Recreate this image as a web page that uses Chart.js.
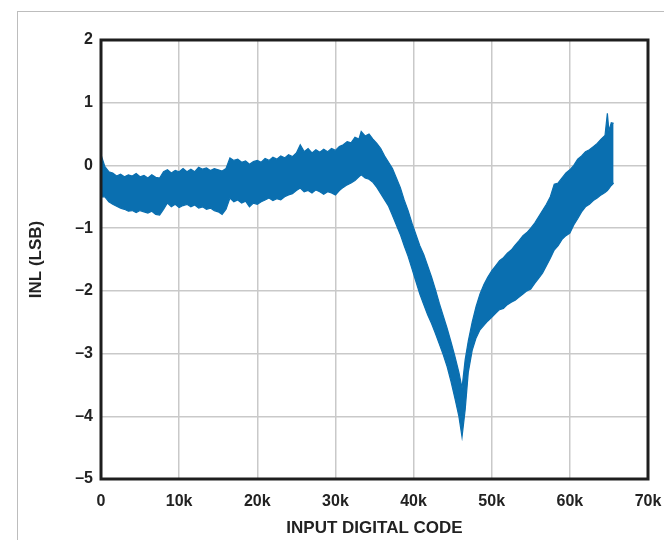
<!DOCTYPE html>
<html>
<head>
<meta charset="utf-8">
<script src="https://cdn.jsdelivr.net/npm/chart.js@4"></script>
<style>
  html, body { margin: 0; padding: 0; background: #fff; }
  #wrap { position: relative; width: 664px; height: 540px; }
  #frame { position: absolute; left: 17px; top: 11px; right: 0; bottom: 0;
           border-left: 1px solid #bdbdbd; border-top: 1px solid #bdbdbd; pointer-events: none; }
  canvas { position: absolute; left: 0; top: 0; }
</style>
</head>
<body>
<div id="wrap">
  <div id="frame"></div>
  <canvas id="c" width="664" height="540"></canvas>
</div>
<script>
// ---- data (upper / lower edge of the INL band) ----
const codes = [
  0, 500, 1000, 1500, 2000, 2500, 3000, 3500, 4000, 4500,
  5000, 5500, 6000, 6500, 7000, 7500, 8000, 8500, 9000, 9500,
  10000, 10500, 11000, 11500, 12000, 12500, 13000, 13500, 14000, 14500,
  15000, 15500, 16000, 16500, 17000, 17500, 18000, 18500, 19000, 19500,
  20000, 20500, 21000, 21500, 22000, 22500, 23000, 23500, 24000, 24500,
  25000, 25500, 26000, 26500, 27000, 27500, 28000, 28500, 29000, 29500,
  30000, 30500, 31000, 31500, 32000, 32500, 33000, 33300, 33800, 34300,
  34800, 35300, 35800, 36300, 36800, 37300, 37800, 38300, 38800, 39300,
  39800, 40300, 40800, 41300, 41800, 42300, 42800, 43300, 43800, 44300,
  44800, 45300, 45800, 46200, 46600, 47000, 47500, 48000, 48500, 49000,
  49500, 50000, 50500, 51000, 51500, 52000, 52500, 53000, 53500, 54000,
  54500, 55000, 55500, 56000, 56500, 57000, 57500, 58000, 58500, 59000,
  59500, 60000, 60500, 61000, 61500, 62000, 62500, 63000, 63500, 64000,
  64500, 64800, 65000, 65300, 65600
];
const inlUpper = [
  0.17, -0.02, -0.1, -0.12, -0.17, -0.14, -0.18, -0.15, -0.17, -0.13,
  -0.18, -0.16, -0.2, -0.15, -0.19, -0.2, -0.1, -0.07, -0.12, -0.08,
  -0.1, -0.05, -0.1, -0.06, -0.1, -0.03, -0.06, -0.04, -0.08, -0.05,
  -0.07, -0.09, -0.05, 0.12, 0.08, 0.1, 0.05, 0.07, 0.02, 0.06,
  0.08, 0.05, 0.11, 0.08, 0.13, 0.1, 0.15, 0.12, 0.17, 0.14,
  0.2, 0.33, 0.22, 0.27, 0.2, 0.25, 0.21, 0.26, 0.22, 0.27,
  0.24, 0.3, 0.33, 0.38, 0.36, 0.45, 0.42, 0.54, 0.47, 0.5,
  0.42, 0.35, 0.27, 0.15, 0.05, -0.05, -0.2, -0.35, -0.55, -0.72,
  -0.92, -1.1, -1.28, -1.42, -1.6, -1.78, -1.98, -2.2, -2.4, -2.6,
  -2.82, -3.05, -3.3, -3.55, -3.1, -2.8, -2.5, -2.25, -2.05, -1.9,
  -1.78, -1.68, -1.6, -1.52, -1.47, -1.4, -1.35, -1.27, -1.2, -1.12,
  -1.07, -1.0, -0.92, -0.82, -0.72, -0.62, -0.5, -0.3, -0.28, -0.2,
  -0.12, -0.07, 0.0, 0.1, 0.15, 0.22, 0.25, 0.3, 0.35, 0.42,
  0.48, 0.83, 0.55, 0.68, 0.67
];
const inlLower = [
  -0.5, -0.5, -0.58, -0.62, -0.65, -0.68, -0.7, -0.73, -0.72, -0.75,
  -0.72, -0.74, -0.76, -0.73, -0.78, -0.79, -0.7, -0.6, -0.66, -0.62,
  -0.67, -0.64, -0.62, -0.66, -0.63, -0.68, -0.66, -0.7, -0.68, -0.72,
  -0.74, -0.78, -0.7, -0.52, -0.58, -0.55, -0.6, -0.57, -0.66, -0.6,
  -0.62, -0.58, -0.55, -0.52, -0.56, -0.53, -0.55, -0.5, -0.47, -0.45,
  -0.4, -0.36, -0.42, -0.4, -0.44, -0.39, -0.42, -0.46, -0.42, -0.44,
  -0.47, -0.4, -0.35, -0.31, -0.28, -0.24, -0.18, -0.15, -0.2, -0.22,
  -0.27, -0.35, -0.45, -0.55, -0.65, -0.8, -0.95, -1.1, -1.28, -1.45,
  -1.65, -1.85, -2.05, -2.22, -2.38, -2.52, -2.68, -2.85, -3.02, -3.21,
  -3.45, -3.72, -4.0, -4.33, -3.9, -3.3, -2.95, -2.75, -2.62, -2.55,
  -2.48, -2.42, -2.36, -2.3, -2.28, -2.22, -2.18, -2.15, -2.1, -2.05,
  -2.0, -1.97, -1.88, -1.8, -1.72, -1.6, -1.48, -1.35, -1.28, -1.18,
  -1.12, -1.08, -0.95, -0.85, -0.74, -0.66, -0.62, -0.56, -0.52, -0.47,
  -0.43, -0.4, -0.37, -0.32, -0.28
];
const xTickValues = [0, 10000, 20000, 30000, 40000, 50000, 60000, 70000];
const xTickLabels = ['0', '10k', '20k', '30k', '40k', '50k', '60k', '70k'];
const yTickValues = [2, 1, 0, -1, -2, -3, -4, -5];
const yTickLabels = ['2', '1', '0', '\u20131', '\u20132', '\u20133', '\u20134', '\u20135'];
const xTitle = 'INPUT DIGITAL CODE';
const yTitle = 'INL (LSB)';

// ---- chart ----
const BLUE = '#0a6fb0';
const FONT = "'Liberation Sans', Arial, sans-serif";
const upperPts = codes.map((c, i) => ({ x: c, y: inlUpper[i] }));
const lowerPts = codes.map((c, i) => ({ x: c, y: inlLower[i] }));

const frameBox = {
  id: 'frameBox',
  afterDatasetsDraw(chart) {
    const a = chart.chartArea, ctx = chart.ctx;
    ctx.save();
    ctx.strokeStyle = '#1e1e1e';
    ctx.lineWidth = 3;
    ctx.strokeRect(a.left, a.top, a.right - a.left, a.bottom - a.top);
    ctx.restore();
  }
};

new Chart(document.getElementById('c'), {
  type: 'line',
  data: {
    datasets: [
      { label: 'upper', data: upperPts, borderColor: BLUE, backgroundColor: BLUE,
        borderWidth: 1.2, pointRadius: 0, tension: 0, fill: '+1' },
      { label: 'lower', data: lowerPts, borderColor: BLUE, backgroundColor: BLUE,
        borderWidth: 1.2, pointRadius: 0, tension: 0, fill: false }
    ]
  },
  options: {
    responsive: false,
    animation: false,
    events: [],
    layout: { padding: { left: 26, right: 16, top: 40, bottom: 0 } },
    plugins: { legend: { display: false }, tooltip: { enabled: false } },
    scales: {
      x: {
        type: 'linear', min: 0, max: 70000,
        afterBuildTicks(s) { s.ticks = xTickValues.map(v => ({ value: v })); },
        afterFit(s) { s.height = 61; s.paddingLeft = 0; s.paddingRight = 0; },
        grid: { color: '#c9c9c9', lineWidth: 1.5, drawTicks: false },
        border: { display: false },
        ticks: {
          padding: 13, color: '#222', maxRotation: 0,
          font: { family: FONT, size: 16, weight: 'bold' },
          callback: (v) => { const i = xTickValues.indexOf(v); return i >= 0 ? xTickLabels[i] : ''; }
        },
        title: { display: true, text: xTitle, color: '#222', padding: { top: 4, bottom: 1 },
                 font: { family: FONT, size: 17, weight: 'bold' } }
      },
      y: {
        type: 'linear', min: -5, max: 2,
        afterBuildTicks(s) { s.ticks = yTickValues.map(v => ({ value: v })); },
        afterFit(s) { s.width = 75; s.paddingTop = 0; s.paddingBottom = 0; },
        grid: { color: '#c9c9c9', lineWidth: 1.5, drawTicks: false },
        border: { display: false },
        ticks: {
          padding: 8, color: '#222',
          font: { family: FONT, size: 16, weight: 'bold' },
          callback: (v) => { const i = yTickValues.indexOf(v); return i >= 0 ? yTickLabels[i] : ''; }
        },
        title: { display: true, text: yTitle, color: '#222', padding: { top: 0, bottom: 0 },
                 font: { family: FONT, size: 17, weight: 'bold' } }
      }
    }
  },
  plugins: [frameBox]
});
</script>
</body>
</html>
